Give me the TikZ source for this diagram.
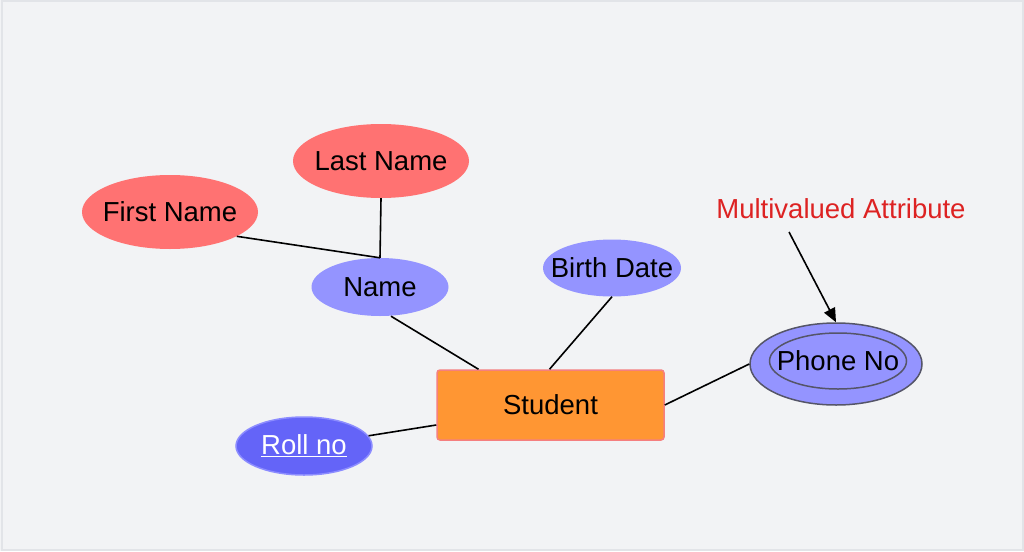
\documentclass[tikz,border=0pt]{standalone}
\usepackage{fontspec}
\setmainfont{Liberation Sans}
\usetikzlibrary{shapes.geometric,arrows.meta}
\definecolor{bgc}{HTML}{F2F3F5}
\definecolor{bgline}{HTML}{E2E4E8}
\definecolor{redfill}{HTML}{FF7272}
\definecolor{bluefill}{HTML}{9494FF}
\definecolor{rollfill}{HTML}{6464F8}
\definecolor{rollline}{HTML}{8C8CFF}
\definecolor{orangefill}{HTML}{FF9633}
\definecolor{orangeline}{HTML}{F57F7F}
\definecolor{phoneline}{HTML}{555568}
\definecolor{labelred}{HTML}{DD2222}
\begin{document}
\begin{tikzpicture}[x=1pt,y=-1pt,
  every node/.style={font=\fontsize{27.5}{32}\selectfont, inner sep=0pt},
  every label/.style={font=\fontsize{27.5}{32}\selectfont, inner sep=0pt},
  attr/.style={ellipse, draw=none},
  redattr/.style={attr, fill=redfill, minimum width=176pt, minimum height=74pt},
  blueattr/.style={attr, fill=bluefill, minimum width=137pt, minimum height=58pt},
  conn/.style={draw=black, line width=1.6pt}]
\useasboundingbox (0,0) rectangle (1024,551);
\fill[bgc] (0,0) rectangle (1024,551);
\draw[bgline, line width=2pt] (1.5,1.5) rectangle (1022.5,549.5);

\node[redattr, label={center:Last Name}] (ln) at (381,161) {};
\node[redattr, label={center:First Name}] (fn) at (170,212) {};
\node[blueattr, label={center:Name}] (nm) at (380,287) {};
\node[blueattr, minimum width=138pt, minimum height=57pt, label={center:Birth Date}] (bd) at (612,268) {};
\node[rectangle, fill=orangefill, draw=orangeline, line width=1.5pt, rounded corners=3pt,
      minimum width=227pt, minimum height=70pt] (st) at (550.5,405) {Student};
\node[attr, fill=rollfill, draw=rollline, line width=1.5pt, minimum width=136pt, minimum height=58pt,
      label={[text=white]center:\underline{Roll no}}] (rn) at (304,446) {};
\node[attr, fill=bluefill, draw=phoneline, line width=1.5pt, minimum width=172pt, minimum height=82pt] (ph) at (836,364) {};
\node[attr, draw=phoneline, line width=1.5pt, minimum width=137pt, minimum height=56pt,
      label={center:Phone No}] (phi) at (838,361) {};
\node[text=labelred] (lbl) at (841,209) {Multivalued Attribute};
\coordinate (a0) at (789,232);

\draw[conn] (fn.-20.5) -- (nm.north);
\draw[conn] (ln.south) -- (nm.north);
\draw[conn] ([xshift=11pt]nm.south) -- ([xshift=-72pt]st.north);
\draw[conn] (bd.south) -- ([xshift=-1pt]st.north);
\draw[conn] (rn.9) -- ([yshift=-20pt]st.west);
\draw[conn] (st.east) -- (ph.west);
\draw[conn, -{Triangle[length=14pt,width=12pt]}] (a0) -- (ph.north);
\end{tikzpicture}
\end{document}
